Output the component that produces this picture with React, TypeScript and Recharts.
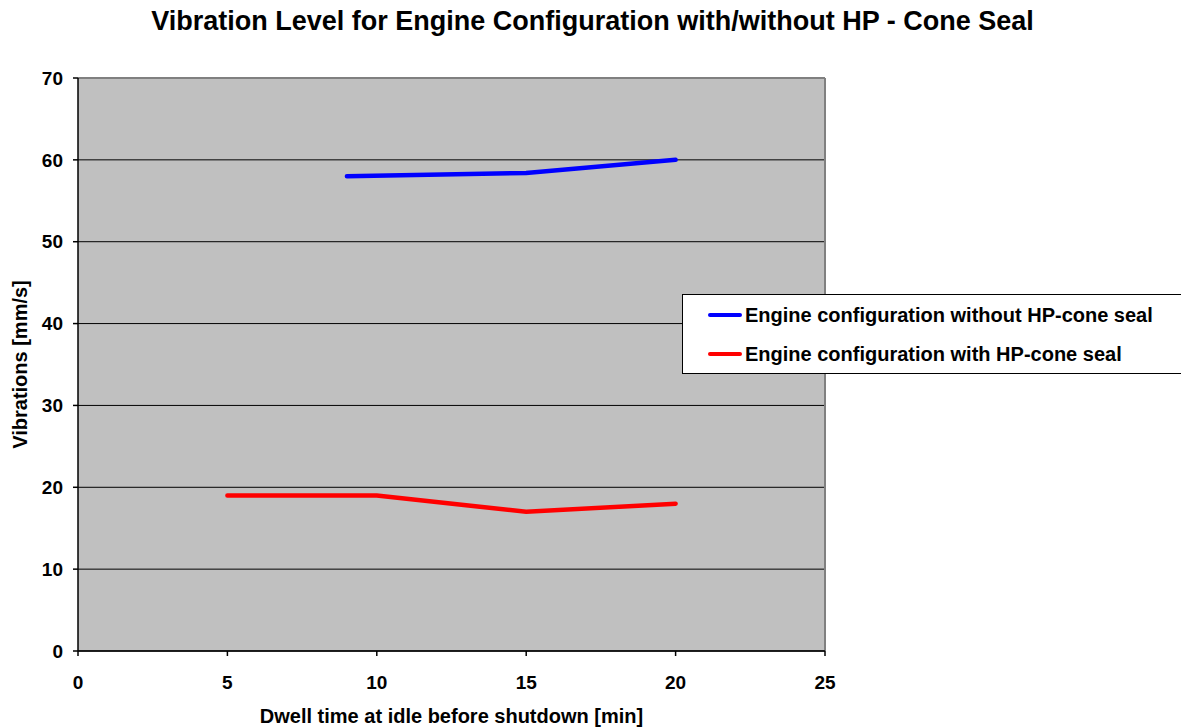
import { LineChart, Line, XAxis, YAxis, CartesianGrid, ReferenceLine, Label } from 'recharts';

const withoutSealX = [9, 15, 20];
const withoutSealY = [58, 58.4, 60];
const withSealX = [5, 10, 15, 20];
const withSealY = [19, 19, 17, 18];
const xTicks = [0, 5, 10, 15, 20, 25];
const yTicks = [0, 10, 20, 30, 40, 50, 60, 70];

const seriesNames = ['Engine configuration without HP-cone seal', 'Engine configuration with HP-cone seal'];
const seriesColors = ['#0000FF', '#FF0000'];

const withoutData = withoutSealX.map((x, i) => ({ x, y: withoutSealY[i] }));
const withData = withSealX.map((x, i) => ({ x, y: withSealY[i] }));

const font = 'Arial, "Liberation Sans", sans-serif';

// legend drawn as plain html box on top of the chart
function LegendBox() {
    return (
        <div style={{ position: 'absolute', left: 682, top: 294, width: 520, height: 80, border: '1px solid #000', background: '#fff', boxSizing: 'border-box' }}>
            {seriesNames.map((n, i) => (
                <div key={n} style={{ position: 'absolute', left: 0, top: i === 0 ? 7 : 46, height: 26, display: 'flex', alignItems: 'center' }}>
                    <div style={{ width: 34, height: 4, borderRadius: 2, background: seriesColors[i], marginLeft: 25, marginRight: 3 }} />
                    <span style={{ fontFamily: font, fontWeight: 'bold', fontSize: 20, color: '#000' }}>{n}</span>
                </div>
            ))}
        </div>
    );
}

export default function App() {
    return (
        <div style={{ position: 'absolute', left: 0, top: 0, width: 1181, height: 727, background: '#fff', fontFamily: font, overflow: 'hidden' }}>
            <div style={{ position: 'absolute', top: 6, left: 2, width: 1181, textAlign: 'center', fontWeight: 'bold', fontSize: 27, color: '#000' }}>
                Vibration Level for Engine Configuration with/without HP - Cone Seal
            </div>
            <LineChart width={1181} height={727} margin={{ top: 78, right: 356, bottom: 0, left: 0 }}>
                <CartesianGrid vertical={false} fill="#C0C0C0" fillOpacity={1} stroke="#000" />
                <XAxis type="number" dataKey="x" domain={[0, 25]} ticks={xTicks} allowDataOverflow
                    stroke="#000" strokeWidth={1.5} tickSize={5} tickMargin={20} height={76}
                    tick={{ fill: '#000', fontSize: 19, fontWeight: 'bold', fontFamily: font }}>
                    <Label value="Dwell time at idle before shutdown [min]" position="insideBottom" offset={4}
                        style={{ fill: '#000', fontSize: 20, fontWeight: 'bold', fontFamily: font }} />
                </XAxis>
                <YAxis type="number" domain={[0, 70]} ticks={yTicks} width={78}
                    stroke="#000" strokeWidth={1.5} tickSize={5} tickMargin={10}
                    tick={{ fill: '#000', fontSize: 19, fontWeight: 'bold', fontFamily: font }}>
                    <Label value="Vibrations [mm/s]" angle={-90} position="insideLeft" offset={20}
                        style={{ textAnchor: 'middle', fill: '#000', fontSize: 20, fontWeight: 'bold', fontFamily: font }} />
                </YAxis>
                <ReferenceLine y={70} stroke="#808080" strokeWidth={2} />
                <ReferenceLine x={25} stroke="#808080" strokeWidth={2} />
                <Line data={withoutData} dataKey="y" name={seriesNames[0]} stroke={seriesColors[0]} strokeWidth={4.5}
                    strokeLinecap="round" dot={false} activeDot={false} isAnimationActive={false} />
                <Line data={withData} dataKey="y" name={seriesNames[1]} stroke={seriesColors[1]} strokeWidth={4.5}
                    strokeLinecap="round" dot={false} activeDot={false} isAnimationActive={false} />
            </LineChart>
            <LegendBox />
        </div>
    );
}
